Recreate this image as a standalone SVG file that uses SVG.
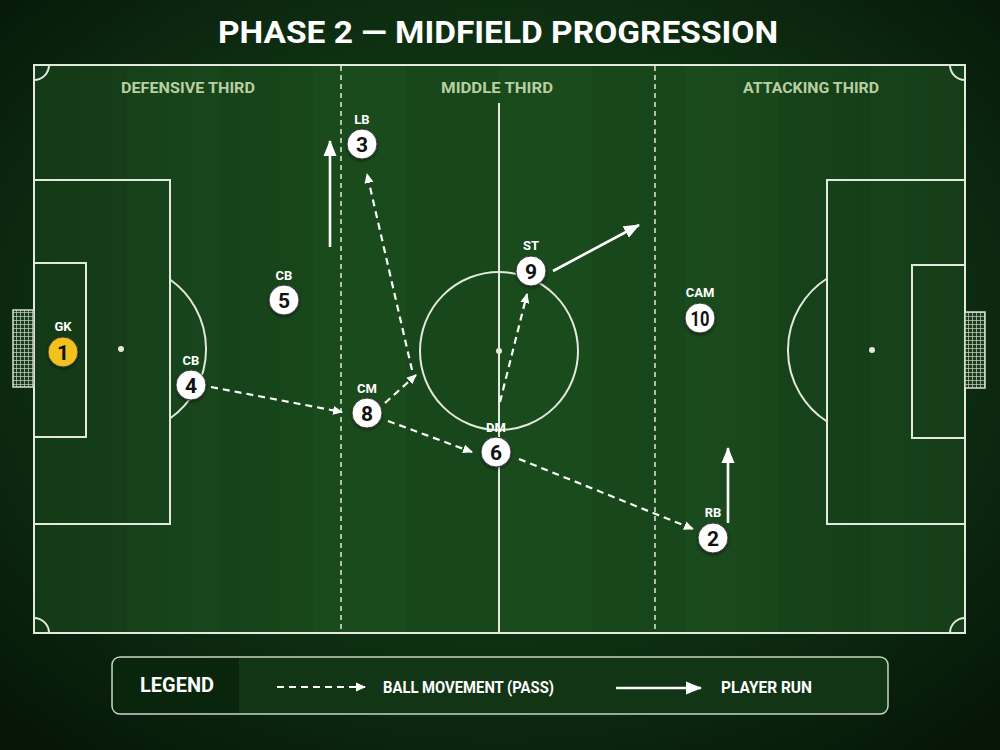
<svg xmlns="http://www.w3.org/2000/svg" width="1000" height="750" viewBox="0 0 1000 750">
  <defs>
    <radialGradient id="bg" cx="50%" cy="45%" r="70%">
      <stop offset="0" stop-color="#15401a"/>
      <stop offset="0.6" stop-color="#0e2f12"/>
      <stop offset="1" stop-color="#061708"/>
    </radialGradient>
    <linearGradient id="pitchShade" x1="0" y1="0" x2="1" y2="0">
      <stop offset="0" stop-color="#000" stop-opacity="0.2"/>
      <stop offset="0.3" stop-color="#000" stop-opacity="0"/>
      <stop offset="0.7" stop-color="#000" stop-opacity="0"/>
      <stop offset="1" stop-color="#000" stop-opacity="0.18"/>
    </linearGradient>
    <pattern id="net" width="4" height="4" patternUnits="userSpaceOnUse">
      <rect width="4" height="4" fill="#1a3a1c"/>
      <path d="M0 0.5H4M0.5 0V4" stroke="#c9d3c4" stroke-width="0.7"/>
    </pattern>
    <marker id="passHead" markerWidth="10" markerHeight="10" refX="9" refY="5" orient="auto" markerUnits="userSpaceOnUse">
      <path d="M0 0.5L10 5L0 9.5Z" fill="#ffffff"/>
    </marker>
    <marker id="runHead" markerWidth="16" markerHeight="14" refX="15" refY="7" orient="auto" markerUnits="userSpaceOnUse">
      <path d="M0 0.5L16 7L0 13.5Z" fill="#ffffff"/>
    </marker>
    <filter id="shadow" x="-50%" y="-50%" width="200%" height="200%">
      <feDropShadow dx="0" dy="1.5" stdDeviation="1.5" flood-color="#000" flood-opacity="0.5"/>
    </filter>
    <style>
      .line { fill: none; stroke: #e3e9dc; stroke-width: 2; }
      .third { fill: none; stroke: #e3e9dc; stroke-width: 1.5; stroke-dasharray: 5 4; }
      .zone { font-family: "Roboto", "Liberation Sans", sans-serif; font-weight: 700; font-size: 15px; fill: #b8cfa2; text-anchor: middle; }
      .title { font-family: "Roboto", "Liberation Sans", sans-serif; font-weight: 700; font-size: 32px; fill: #ffffff; text-anchor: middle; }
      .pos { font-family: "Roboto", "Liberation Sans", sans-serif; font-weight: 700; font-size: 13px; fill: #ffffff; text-anchor: middle; }
      .num { font-family: "Roboto", "Liberation Sans", sans-serif; font-weight: 700; font-size: 21px; fill: #111111; text-anchor: middle; }
      .disc { fill: #ffffff; stroke: #3a3a3a; stroke-width: 1; }
      .gk { fill: #f2c21b; stroke: #3a3a3a; stroke-width: 1; }
      .pass { fill: none; stroke: #ffffff; stroke-width: 2.2; stroke-dasharray: 7 5; marker-end: url(#passHead); }
      .run { fill: none; stroke: #ffffff; stroke-width: 2.6; marker-end: url(#runHead); }
      .leg { font-family: "Roboto", "Liberation Sans", sans-serif; font-weight: 700; fill: #ffffff; }
    </style>
  </defs>

  <rect width="1000" height="750" fill="url(#bg)"/>

  <text class="title" x="498" y="43" textLength="560" lengthAdjust="spacingAndGlyphs">PHASE 2 — MIDFIELD PROGRESSION</text>

  <g id="pitch">
    <rect x="34" y="65" width="931" height="568" fill="#18471b"/>
    <rect x="127" y="65" width="93" height="568" fill="#1a4b1d"/>
    <rect x="313" y="65" width="93" height="568" fill="#1a4b1d"/>
    <rect x="499" y="65" width="93" height="568" fill="#1a4b1d"/>
    <rect x="685" y="65" width="93" height="568" fill="#1a4b1d"/>
    <rect x="871" y="65" width="94" height="568" fill="#1a4b1d"/>
    <rect x="34" y="65" width="931" height="568" fill="url(#pitchShade)"/>
    <rect x="34" y="65" width="931" height="568" class="line"/>
    <line x1="499" y1="103" x2="499" y2="633" class="line"/>
    <circle cx="499" cy="351" r="79" class="line"/>
    <circle cx="499" cy="351" r="3" fill="#e3e9dc"/>
    <rect x="34" y="180" width="136" height="344" class="line"/>
    <rect x="34" y="263" width="52" height="174" class="line"/>
    <circle cx="121" cy="349" r="3" fill="#e3e9dc"/>
    <path d="M170 279.5A85 85 0 0 1 170 418.5" class="line"/>
    <rect x="827" y="180" width="138" height="344" class="line"/>
    <rect x="912" y="265" width="53" height="173" class="line"/>
    <circle cx="872" cy="350" r="3" fill="#e3e9dc"/>
    <path d="M827 278.5A85 85 0 0 0 827 421.5" class="line"/>
    <path d="M34 80A15 15 0 0 0 49 65" class="line"/>
    <path d="M950 65A15 15 0 0 0 965 80" class="line"/>
    <path d="M34 618A15 15 0 0 1 49 633" class="line"/>
    <path d="M950 633A15 15 0 0 1 965 618" class="line"/>
    <rect x="13" y="310" width="21" height="77" fill="url(#net)" stroke="#d8ded2" stroke-width="1.5"/>
    <rect x="965" y="312" width="20" height="76" fill="url(#net)" stroke="#d8ded2" stroke-width="1.5"/>
    <line x1="341" y1="66" x2="341" y2="632" class="third"/>
    <line x1="655" y1="66" x2="655" y2="632" class="third"/>
    <text class="zone" x="188" y="93" textLength="134" lengthAdjust="spacingAndGlyphs">DEFENSIVE THIRD</text>
    <text class="zone" x="497" y="93" textLength="112" lengthAdjust="spacingAndGlyphs">MIDDLE THIRD</text>
    <text class="zone" x="811" y="93" textLength="136" lengthAdjust="spacingAndGlyphs">ATTACKING THIRD</text>
  </g>

  <g id="connectors">
    <line class="pass" x1="211" y1="387" x2="342" y2="412"/>
    <line class="pass" x1="385" y1="403" x2="416" y2="375"/>
    <line class="pass" x1="412" y1="370" x2="367" y2="174"/>
    <line class="pass" x1="388" y1="421" x2="472" y2="452"/>
    <line class="pass" x1="500" y1="402" x2="527" y2="294"/>
    <line class="pass" x1="519" y1="459" x2="693" y2="529"/>
    <line class="run" x1="330" y1="247" x2="330" y2="141"/>
    <line class="run" x1="553" y1="271" x2="639" y2="225"/>
    <line class="run" x1="728" y1="523" x2="728" y2="448"/>
  </g>

  <g id="player-1">
    <text class="pos" x="63" y="331">GK</text>
    <circle class="gk" cx="63" cy="352" r="15" filter="url(#shadow)"/>
    <text class="num" x="63" y="359.5">1</text>
  </g>
  <g id="player-4">
    <text class="pos" x="191" y="365">CB</text>
    <circle class="disc" cx="191" cy="385" r="15" filter="url(#shadow)"/>
    <text class="num" x="191" y="392.5">4</text>
  </g>
  <g id="player-5">
    <text class="pos" x="284" y="280">CB</text>
    <circle class="disc" cx="284" cy="300" r="15" filter="url(#shadow)"/>
    <text class="num" x="284" y="307.5">5</text>
  </g>
  <g id="player-3">
    <text class="pos" x="362" y="124">LB</text>
    <circle class="disc" cx="362" cy="144" r="15" filter="url(#shadow)"/>
    <text class="num" x="362" y="151.5">3</text>
  </g>
  <g id="player-8">
    <text class="pos" x="367" y="393">CM</text>
    <circle class="disc" cx="367" cy="413" r="15" filter="url(#shadow)"/>
    <text class="num" x="367" y="420.5">8</text>
  </g>
  <g id="player-6">
    <text class="pos" x="496" y="432">DM</text>
    <circle class="disc" cx="496" cy="452" r="15" filter="url(#shadow)"/>
    <text class="num" x="496" y="459.5">6</text>
  </g>
  <g id="player-9">
    <text class="pos" x="531" y="250">ST</text>
    <circle class="disc" cx="531" cy="271" r="15" filter="url(#shadow)"/>
    <text class="num" x="531" y="278.5">9</text>
  </g>
  <g id="player-10">
    <text class="pos" x="700" y="297">CAM</text>
    <circle class="disc" cx="700" cy="318" r="15" filter="url(#shadow)"/>
    <text class="num" x="700" y="325.5" textLength="19" lengthAdjust="spacingAndGlyphs">10</text>
  </g>
  <g id="player-2">
    <text class="pos" x="713" y="517">RB</text>
    <circle class="disc" cx="713" cy="538" r="15" filter="url(#shadow)"/>
    <text class="num" x="713" y="545.5">2</text>
  </g>

  <g id="legend">
    <rect x="112" y="657" width="776" height="57" rx="8" fill="#113515" stroke="#c9d2c3" stroke-width="1.5"/>
    <path d="M120 658H239V713H120A7 7 0 0 1 113 706V665A7 7 0 0 1 120 658Z" fill="#09260c"/>
    <text class="leg" x="177" y="692" font-size="20" text-anchor="middle" textLength="74" lengthAdjust="spacingAndGlyphs">LEGEND</text>
    <line class="pass" x1="277" y1="687" x2="365" y2="687" stroke-dasharray="6 4"/>
    <text class="leg" x="383" y="693" font-size="16" textLength="171" lengthAdjust="spacingAndGlyphs">BALL MOVEMENT (PASS)</text>
    <line class="run" x1="616" y1="688" x2="701" y2="688"/>
    <text class="leg" x="721" y="693" font-size="16" textLength="91" lengthAdjust="spacingAndGlyphs">PLAYER RUN</text>
  </g>
</svg>
